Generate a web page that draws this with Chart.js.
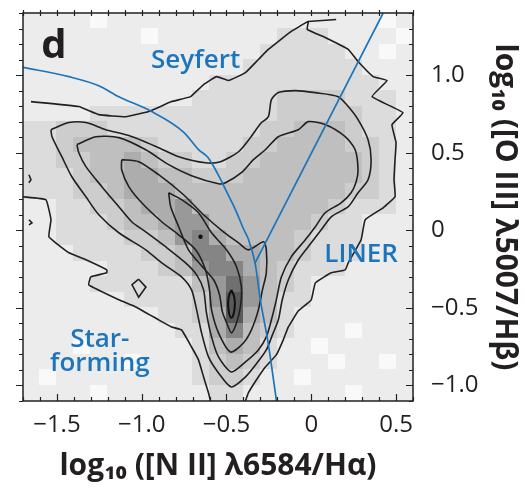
<!DOCTYPE html>
<html>
<head>
<meta charset="utf-8">
<script src="https://cdn.jsdelivr.net/npm/chart.js@4.4.0/dist/chart.umd.min.js"></script>
<style>
  html, body { margin: 0; padding: 0; background: #fff; }
</style>
</head>
<body>
<canvas id="bpt" width="525" height="494"></canvas>
<script>
// axis ticks
const xTicks = [-1.5, -1.0, -0.5, 0, 0.5];
const xTickLabels = ['\u22121.5', '\u22121.0', '\u22120.5', '0', '0.5'];
const yTicks = [-1.0, -0.5, 0, 0.5, 1.0];
const yTickLabels = ['\u22121.0', '\u22120.5', '0', '0.5', '1.0'];

// density grid (cell centres) and grey level per cell, top row first
const gridX = [-1.65, -1.55, -1.45, -1.35, -1.25, -1.15, -1.05, -0.95, -0.85, -0.75, -0.65, -0.55,
               -0.45, -0.35, -0.25, -0.15, -0.05, 0.05, 0.15, 0.25, 0.35, 0.45, 0.55];
const gridY = [1.35, 1.25, 1.15, 1.05, 0.95, 0.85, 0.75, 0.65, 0.55, 0.45, 0.35, 0.25, 0.15,
               0.05, -0.05, -0.15, -0.25, -0.35, -0.45, -0.55, -0.65, -0.75, -0.85, -0.95, -1.05];
const densityRows = [
  '11110111111111111111101',
  '11111110111111122211110',
  '11111111111111222221101',
  '11111111111112222222111',
  '11111111111222222222211',
  '11111111112222233332221',
  '11112222222222233333221',
  '22333222222222334443221',
  '22344443222223344443321',
  '22334454332233444444321',
  '22234455443334444444321',
  '22233455544444444443321',
  '11223345564444444432221',
  '11222344566444444322111',
  '11222233467544443222111',
  '11122223347755443222111',
  '11111222346775432221111',
  '11112222224686432111111',
  '11111122223696422111111',
  '11111111223595421111111',
  '11111111122574321110111',
  '11101111112454211011111',
  '11111101112343211101101',
  '10111111112332110111111',
  '11110111111221111110111'
];

// dividing lines
const kauffmannCurve = [[-1.70, 1.05], [-1.43, 0.99], [-1.25, 0.93], [-1.135, 0.86], [-0.95, 0.77],
  [-0.75, 0.63], [-0.665, 0.52], [-0.61, 0.47], [-0.55, 0.36], [-0.5, 0.25], [-0.45, 0.14],
  [-0.40, 0.01], [-0.37, -0.06], [-0.33, -0.22], [-0.30, -0.45], [-0.255, -0.72], [-0.205, -1.10]];
const seyfertLinerLine = [[-0.331, -0.21], [0.424, 1.40]];

// contours, outermost first
const contour1a = [[-1.70, 0.216], [-1.565, 0.197], [-1.535, 0.068], [-1.547, -0.042], [-1.429, -0.145],
  [-1.329, -0.19], [-1.206, -0.255], [-1.206, -0.274], [-1.3, -0.3], [-1.312, -0.352], [-1.135, -0.448],
  [-1.035, -0.494], [-0.9, -0.577], [-0.824, -0.623], [-0.765, -0.642], [-0.706, -0.752], [-0.665, -0.835],
  [-0.635, -0.945], [-0.606, -1.048], [-0.594, -1.1]];
const contour1b = [[-1.653, 0.829], [-1.371, 0.797], [-1.253, 0.745], [-1.094, 0.732], [-0.959, 0.765],
  [-0.824, 0.829], [-0.712, 0.861], [-0.635, 0.939], [-0.559, 0.99], [-0.488, 0.965], [-0.388, 1.016],
  [-0.312, 1.10], [-0.253, 1.165], [-0.118, 1.281], [-0.018, 1.345], [-0.024, 1.294], [0.082, 1.242],
  [0.218, 1.165], [0.276, 1.087], [0.365, 0.99], [0.447, 0.965], [0.359, 0.861], [0.541, 0.758],
  [0.476, 0.681], [0.50, 0.565], [0.494, 0.455], [0.488, 0.326], [0.494, 0.216], [0.424, 0.145],
  [0.318, 0.068], [0.294, -0.061], [0.218, -0.21], [0.2, -0.255], [0.118, -0.274], [0.024, -0.339],
  [0, -0.448], [-0.076, -0.519], [-0.135, -0.623], [-0.165, -0.706], [-0.206, -0.803], [-0.271, -0.881],
  [-0.324, -0.965], [-0.371, -1.048], [-0.388, -1.1]];
const contour1spur = [[-0.018, 1.345], [0.147, 1.358]];
const contour2 = [[-1.535, 0.648], [-1.429, 0.694], [-1.329, 0.694], [-1.212, 0.648], [-1.076, 0.61],
  [-0.9, 0.532], [-0.782, 0.474], [-0.624, 0.435], [-0.535, 0.442], [-0.429, 0.506], [-0.359, 0.597],
  [-0.3, 0.687], [-0.253, 0.732], [-0.235, 0.842], [-0.194, 0.887], [-0.094, 0.9], [0.024, 0.887],
  [0.159, 0.861], [0.218, 0.797], [0.276, 0.713], [0.335, 0.584], [0.353, 0.455], [0.335, 0.326],
  [0.276, 0.242], [0.218, 0.152], [0.118, 0.087], [0.059, 0.003], [0, -0.081], [-0.076, -0.19],
  [-0.135, -0.319], [-0.171, -0.448], [-0.194, -0.577], [-0.229, -0.674], [-0.265, -0.771],
  [-0.324, -0.861], [-0.388, -0.945], [-0.471, -1.01], [-0.547, -0.919], [-0.606, -0.816],
  [-0.647, -0.661], [-0.676, -0.513], [-0.706, -0.384], [-0.765, -0.3], [-0.882, -0.21],
  [-0.976, -0.126], [-1.135, -0.016], [-1.253, 0.1], [-1.329, 0.216], [-1.412, 0.345],
  [-1.471, 0.474], [-1.529, 0.603], [-1.535, 0.648]];
const contour3 = [[-1.382, 0.552], [-1.271, 0.603], [-1.135, 0.597], [-0.976, 0.519], [-0.841, 0.423],
  [-0.706, 0.352], [-0.547, 0.3], [-0.506, 0.306], [-0.412, 0.371], [-0.341, 0.455], [-0.271, 0.519],
  [-0.194, 0.603], [-0.076, 0.648], [-0.018, 0.7], [0.082, 0.681], [0.2, 0.603], [0.259, 0.519],
  [0.276, 0.39], [0.265, 0.313], [0.235, 0.242], [0.176, 0.177], [0.082, 0.113], [0.024, 0.023],
  [-0.035, -0.061], [-0.118, -0.171], [-0.176, -0.3], [-0.206, -0.448], [-0.235, -0.577],
  [-0.265, -0.687], [-0.312, -0.771], [-0.388, -0.848], [-0.471, -0.913], [-0.547, -0.816],
  [-0.588, -0.687], [-0.618, -0.532], [-0.635, -0.384], [-0.676, -0.287], [-0.741, -0.21],
  [-0.859, -0.106], [-0.976, -0.01], [-1.059, 0.055], [-1.135, 0.152], [-1.235, 0.281],
  [-1.329, 0.41], [-1.371, 0.5], [-1.382, 0.552]];
const contour4 = [[-1.118, 0.455], [-1.018, 0.442], [-0.9, 0.358], [-0.753, 0.229], [-0.635, 0.1],
  [-0.518, -0.01], [-0.429, -0.081], [-0.371, -0.126], [-0.282, -0.074], [-0.265, -0.126],
  [-0.265, -0.274], [-0.288, -0.384], [-0.312, -0.513], [-0.353, -0.642], [-0.4, -0.726],
  [-0.476, -0.784], [-0.547, -0.661], [-0.588, -0.513], [-0.6, -0.384], [-0.624, -0.255],
  [-0.682, -0.126], [-0.782, -0.029], [-0.882, 0.055], [-1.0, 0.177], [-1.076, 0.281],
  [-1.118, 0.39], [-1.118, 0.455]];
const contour5 = [[-0.841, 0.242], [-0.765, 0.197], [-0.665, 0.113], [-0.588, -0.016], [-0.5, -0.126],
  [-0.441, -0.235], [-0.412, -0.365], [-0.418, -0.494], [-0.441, -0.597], [-0.471, -0.661],
  [-0.494, -0.61], [-0.524, -0.526], [-0.541, -0.416], [-0.576, -0.319], [-0.647, -0.229],
  [-0.724, -0.126], [-0.782, 0.023], [-0.829, 0.152], [-0.841, 0.242]];
const contour6 = [[-0.471, -0.384], [-0.453, -0.435], [-0.453, -0.513], [-0.471, -0.565],
  [-0.488, -0.513], [-0.488, -0.435], [-0.471, -0.384]];
const peakDot = [[-0.653, -0.042]];
const islandSF = [[-1.018, -0.315], [-0.975, -0.366], [-1.018, -0.431], [-1.057, -0.351], [-1.018, -0.315]];
const edgeBit1 = [[-1.665, 0.358], [-1.653, 0.326], [-1.665, 0.306]];
const edgeBit2 = [[-1.665, 0.068], [-1.647, 0.048], [-1.665, 0.035]];

// region names
const regionNames = ['Seyfert', 'LINER', 'Star-', 'forming'];
const regionX = [-0.682, 0.294, -1.247, -1.247];
const regionY = [1.048, -0.203, -0.752, -0.906];
const panelLetter = { text: 'd', x: -1.518, y: 1.113 };

const ink = '#231f20';
const blue = '#1c75bc';
const grays = ['#f9f9f9', '#ececec', '#dcdcdc', '#cdcdcd', '#bfbfbf', '#adadad', '#999999', '#858585', '#707070', '#5a5a5a'];

function pts(a) { return a.map(p => ({ x: p[0], y: p[1] })); }
function line(a, color, width, tension) {
  return { data: pts(a), showLine: true, borderColor: color, borderWidth: width,
           pointRadius: 0, tension: tension, fill: false };
}

// grey cells behind everything
const densityPlugin = {
  id: 'density',
  beforeDatasetsDraw(chart) {
    const { ctx, chartArea: a, scales: { x, y } } = chart;
    ctx.save();
    ctx.beginPath();
    ctx.rect(a.left, a.top, a.width, a.height);
    ctx.clip();
    densityRows.forEach((row, j) => {
      for (let i = 0; i < row.length; i++) {
        const x0 = x.getPixelForValue(gridX[i] - 0.05), x1 = x.getPixelForValue(gridX[i] + 0.05);
        const y0 = y.getPixelForValue(gridY[j] + 0.05), y1 = y.getPixelForValue(gridY[j] - 0.05);
        ctx.fillStyle = grays[+row[i]];
        ctx.fillRect(Math.floor(x0), Math.floor(y0), Math.ceil(x1 - x0) + 1, Math.ceil(y1 - y0) + 1);
      }
    });
    ctx.restore();
  }
};

// frame, tick marks and region labels
const framePlugin = {
  id: 'frame',
  afterDatasetsDraw(chart) {
    const { ctx, chartArea: a, scales: { x, y } } = chart;
    ctx.save();
    ctx.strokeStyle = ink;
    ctx.lineWidth = 1.5;
    ctx.strokeRect(a.left, a.top, a.width, a.height);
    ctx.lineWidth = 1.2;
    ctx.beginPath();
    for (let k = -17; k <= 6; k++) {
      const px = Math.round(x.getPixelForValue(k / 10)) + 0.5;
      const len = k % 5 === 0 ? 7 : 4;
      ctx.moveTo(px, a.bottom); ctx.lineTo(px, a.bottom - len);
      ctx.moveTo(px, a.top + 3); ctx.lineTo(px, a.top - 3);
    }
    for (let k = -11; k <= 14; k++) {
      const py = Math.round(y.getPixelForValue(k / 10)) + 0.5;
      const len = k % 5 === 0 ? 7 : 4;
      ctx.moveTo(a.right, py); ctx.lineTo(a.right - len, py);
      ctx.moveTo(a.left, py); ctx.lineTo(a.left - len, py);
    }
    ctx.stroke();

    ctx.fillStyle = blue;
    ctx.font = '600 26px "Open Sans"';
    ctx.textAlign = 'center';
    ctx.textBaseline = 'alphabetic';
    regionNames.forEach((t, i) => {
      ctx.fillText(t, x.getPixelForValue(regionX[i]), y.getPixelForValue(regionY[i]));
    });
    ctx.fillStyle = ink;
    ctx.font = 'bold 40px "Open Sans"';
    ctx.fillText(panelLetter.text, x.getPixelForValue(panelLetter.x), y.getPixelForValue(panelLetter.y));
    ctx.restore();
  }
};

const ctx = document.getElementById('bpt').getContext('2d');
new Chart(ctx, {
  type: 'scatter',
  data: {
    datasets: [
      line(seyfertLinerLine, blue, 1.7, 0),
      Object.assign(line(kauffmannCurve, blue, 1.7, 0), { cubicInterpolationMode: 'monotone' }),
      { data: pts(peakDot), pointRadius: 2.2, pointBackgroundColor: '#111', pointBorderWidth: 0 },
      Object.assign(line(contour6, '#111', 2, 0.4), { fill: true, backgroundColor: '#222' }),
      line(contour5, ink, 1.6, 0.25),
      line(contour4, ink, 1.6, 0.25),
      line(contour3, ink, 1.6, 0.25),
      line(contour2, ink, 1.6, 0.25),
      line(contour1a, ink, 1.6, 0.1),
      line(contour1b, ink, 1.6, 0.1),
      line(contour1spur, ink, 1.6, 0),
      line(islandSF, ink, 1.6, 0),
      line(edgeBit1, ink, 1.6, 0),
      line(edgeBit2, ink, 1.6, 0)
    ]
  },
  options: {
    responsive: false,
    animation: false,
    devicePixelRatio: 1,
    layout: { padding: { left: 23, top: 13, right: 0, bottom: 0 } },
    plugins: {
      legend: { display: false },
      tooltip: { enabled: false }
    },
    scales: {
      x: {
        type: 'linear',
        position: 'bottom',
        min: -1.7,
        max: 0.6,
        grid: { display: false },
        border: { display: false },
        afterFit: (scale) => { scale.height = 93; scale.paddingLeft = 0; scale.paddingRight = 0; },
        afterBuildTicks: (scale) => { scale.ticks = xTicks.map(v => ({ value: v })); },
        ticks: {
          padding: 2,
          color: ink,
          font: { family: 'Open Sans', size: 24 },
          callback: (v, i) => xTickLabels[i]
        },
        title: {
          display: true,
          text: 'log\u2081\u2080 ([N II] \u03bb6584/H\u03b1)',
          color: ink,
          font: { family: 'Open Sans', size: 30, weight: 'bold' },
          padding: { top: 0, bottom: 10 }
        }
      },
      y: {
        type: 'linear',
        position: 'right',
        min: -1.1,
        max: 1.4,
        grid: { display: false },
        border: { display: false },
        afterFit: (scale) => { scale.width = 112; scale.paddingTop = 0; scale.paddingBottom = 0; },
        afterBuildTicks: (scale) => { scale.ticks = yTicks.map(v => ({ value: v })); },
        ticks: {
          padding: 10,
          color: ink,
          font: { family: 'Open Sans', size: 24 },
          callback: (v, i) => yTickLabels[i]
        },
        title: {
          display: true,
          text: 'log\u2081\u2080 ([O III] \u03bb5007/H\u03b2)',
          color: ink,
          font: { family: 'Open Sans', size: 30, weight: 'bold' },
          padding: { top: 2, bottom: 0 }
        }
      }
    }
  },
  plugins: [densityPlugin, framePlugin]
});
</script>
</body>
</html>
